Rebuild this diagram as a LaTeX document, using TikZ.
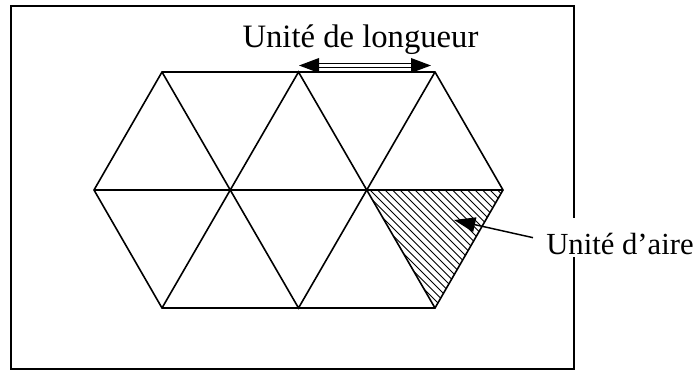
\documentclass[tikz,border=0pt]{standalone}
\usepackage{fontspec}
\setmainfont{Liberation Serif}
\usetikzlibrary{arrows.meta}

\begin{document}
\begin{tikzpicture}[
    x=0.75pt, y=-0.75pt,
    frame/.style={line width=1.5pt},
    grid/.style={line width=1.2pt, line join=miter},
    hatch/.style={line width=0.75pt},
    label/.style={font=\fontsize{24.5}{29}\selectfont, inner sep=0pt},
    unitarrow/.style={{Triangle[length=15pt,width=11pt]}-{Triangle[length=15pt,width=11pt]},
                      double, double distance=2pt, line width=1pt},
    pointer/.style={-{Triangle[length=16pt,width=11pt]}, line width=1.1pt}
]
    \useasboundingbox (0,0) rectangle (699,371);

    % vertices of the triangle grid
    \coordinate (T0) at (162,72);
    \coordinate (T1) at (298.5,72);
    \coordinate (T2) at (435,72);
    \coordinate (M0) at (94,190);
    \coordinate (M1) at (230.5,190);
    \coordinate (M2) at (367,190);
    \coordinate (M3) at (503,190);
    \coordinate (B0) at (162,308);
    \coordinate (B1) at (298.5,308);
    \coordinate (B2) at (435,308);

    % arrow ends
    \coordinate (L1) at (299,65.5);
    \coordinate (L2) at (431,65.5);
    \coordinate (A) at (454,220);

    \draw[frame] (11,6) rectangle (574,369);

    % hatched unit triangle
    \begin{scope}
        \clip (M2) -- (M3) -- (B2) -- cycle;
        \foreach \x in {300,307.5,...,520}
            \draw[hatch] (\x,180) -- (\x+150,330);
    \end{scope}

    \draw[grid] (T0) -- (T2) -- (M3) -- (B2) -- (B0) -- (M0) -- cycle;
    \draw[grid] (M0) -- (M3);
    \draw[grid] (B0) -- (T1) -- (B2);
    \draw[grid] (T0) -- (B1) -- (T2);

    % labels
    \node[label, anchor=base] (longueur) at (360.5,47) {Unité de longueur};
    \node[label, font=\fontsize{23}{27}\selectfont, anchor=base west, fill=white,
          inner xsep=1pt, outer xsep=9pt, inner ysep=2pt, text height=25pt, text depth=0.5pt]
          (aire) at (533,254) {Unité d’aire};

    \draw[unitarrow] (L1) -- (L2);
    \draw[pointer] (aire.west) -- (A);
\end{tikzpicture}
\end{document}
